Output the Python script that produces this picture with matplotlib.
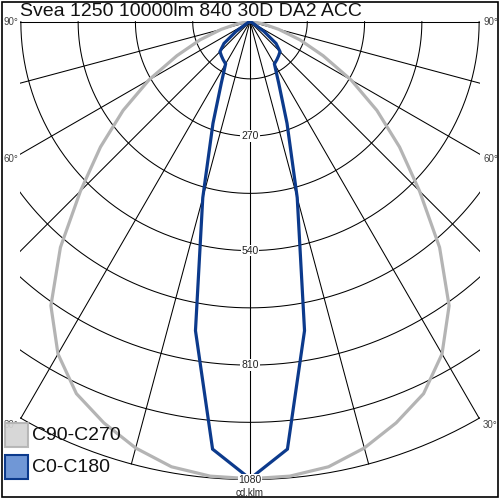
import numpy as np
import matplotlib
matplotlib.use('Agg')
import matplotlib.pyplot as plt
from matplotlib.patches import Rectangle

# --- data ---
title = "Svea 1250 10000lm 840 30D DA2 ACC"
unit = "cd.klm"
gamma = [0, 5, 10, 15, 20, 25, 30, 35, 40, 45, 50, 55, 60, 65, 70, 75, 80, 85, 90]
c0_c180 = [1078, 1012, 740, 430, 255, 160, 115, 110, 105, 100, 80, 40, 10, 5, 3, 2, 1, 0, 0]
c90_c270 = [1078, 1076, 1066, 1041, 1007, 968, 905, 818, 695, 565, 460, 365, 275, 190, 125, 70, 32, 10, 0]
rings = [135, 270, 405, 540, 675, 810, 945, 1080]
ring_labels = [270, 540, 810, 1080]
spokes = [0, 15, 30, 45, 60, 75, 90]
angle_labels = [90, 60, 30]
series_names = ["C90-C270", "C0-C180"]
series_colors = ["#b4b4b4", "#0c3a8c"]
legend_fill = ["#d4d4d4", "#7097d6"]

plt.rcParams['font.family'] = ['Liberation Sans', 'DejaVu Sans']

W = 500.0
fig = plt.figure(figsize=(5, 5), dpi=100)
ax = fig.add_axes([20 / W, 20 / W, 460 / W, 459 / W])
xmax = 542
ax.set_xlim(-xmax, xmax)
ax.set_ylim(-1081, 1.5)
ax.axis('off')

# grid circles
t = np.radians(np.linspace(-90, 90, 361))
for r in rings:
    ax.plot(r * np.sin(t), -r * np.cos(t), color='black', lw=0.75, zorder=1)

# spokes
for a in spokes:
    for s in (-1, 1):
        ar = np.radians(a)
        ax.plot([0, s * 1080 * np.sin(ar)], [0, -1080 * np.cos(ar)],
                color='black', lw=0.75, zorder=1)

# curves: mirror the half-plane data on both sides
g = np.radians(np.array(gamma))
for vals, col in zip([c90_c270, c0_c180], series_colors):
    v = np.array(vals, dtype=float)
    ang = np.concatenate([-g[::-1], g[1:]])
    rr = np.concatenate([v[::-1], v[1:]])
    ax.plot(rr * np.sin(ang), -rr * np.cos(ang), color=col, lw=2.3,
            solid_joinstyle='miter', zorder=3)

# ring labels
for r in ring_labels:
    ax.text(0, -r, str(r), ha='center', va='center', fontsize=7.5, color='#222222',
            bbox=dict(facecolor='white', edgecolor='none', pad=0.6), zorder=5, clip_on=False)

# angle labels at the edge of the frame
for a in angle_labels:
    ar = np.radians(a)
    y_end = -xmax / np.tan(ar) if a < 90 else 0
    dy = 0 if a == 90 else -5
    ax.annotate(f"{a}°", (-xmax, y_end), xytext=(-2, dy), textcoords='offset pixels',
                ha='right', va='center', fontsize=7, color='#444444', annotation_clip=False)
    ax.annotate(f"{a}°", (xmax, y_end), xytext=(3, dy), textcoords='offset pixels',
                ha='left', va='center', fontsize=7, color='#444444', annotation_clip=False)

# title and unit
fig.text(20 / W, 1 - 11 / W, title, ha='left', va='center', fontsize=14, color='#111111')
fig.text(250 / W, 1 - 493 / W, unit, ha='center', va='center', fontsize=7, color='#222222')

# legend
for i, (name, col, fill) in enumerate(zip(series_names, series_colors, legend_fill)):
    yc = 435 + 32 * i
    fig.patches.append(Rectangle((5 / W, 1 - (yc + 12) / W), 23 / W, 24 / W,
                                 transform=fig.transFigure, facecolor=fill, edgecolor=col,
                                 lw=1.5, alpha=0.92 if i == 0 else 1.0, zorder=6))
    fig.text(32 / W, 1 - yc / W, name, ha='left', va='center', fontsize=14, color='#111111', zorder=7)

# outer frame
fig.patches.append(Rectangle((1.5 / W, 3.5 / W), 496 / W, 495 / W, transform=fig.transFigure,
                             facecolor='none', edgecolor='black', lw=1.2))

fig.savefig('out.png', dpi=100)
